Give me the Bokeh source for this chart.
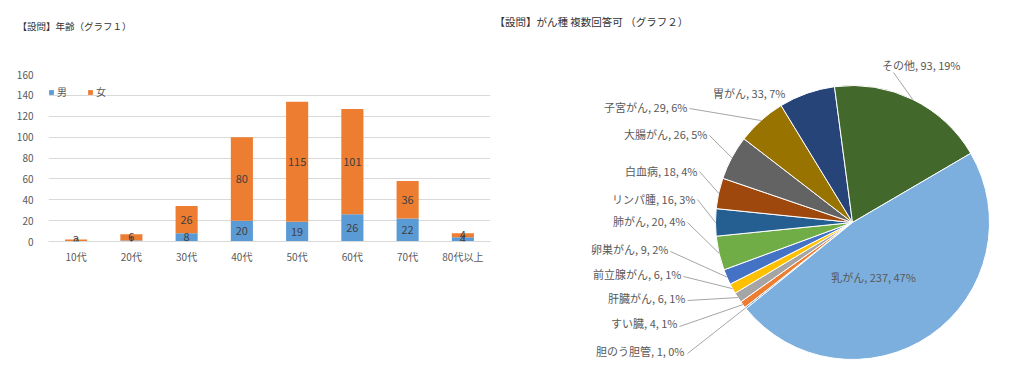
import math
from bokeh.plotting import figure
from bokeh.models import Range1d, FactorRange, ColumnDataSource, LabelSet, SingleIntervalTicker
from bokeh.layouts import row, column
from bokeh.embed import file_html
from bokeh.resources import INLINE
from bokeh.core.properties import value

FONT = "Noto Sans CJK JP"

# ---------------- data: chart 1 (age) ----------------
age_groups = ["10代", "20代", "30代", "40代", "50代", "60代", "70代", "80代以上"]
male_counts = [0, 1, 8, 20, 19, 26, 22, 4]
female_counts = [2, 6, 26, 80, 115, 101, 36, 4]
series_names = ["男", "女"]
y_max = 160
y_step = 20
title1 = "【設問】年齢（グラフ１）"

# ---------------- data: chart 2 (cancer type) ----------------
cancer_types = ["胆のう胆管", "すい臓", "肝臓がん", "前立腺がん", "卵巣がん", "肺がん", "リンパ腫",
                "白血病", "大腸がん", "子宮がん", "胃がん", "その他", "乳がん"]
cancer_counts = [1, 4, 6, 6, 9, 20, 16, 18, 26, 29, 33, 93, 237]
cancer_pcts = [0, 1, 1, 1, 2, 4, 3, 4, 5, 6, 7, 19, 47]
title2 = "【設問】がん種 複数回答可 （グラフ２）"

# ---------------- styles / layout ----------------
bar_colors = ["#5B9BD5", "#ED7D31"]
slice_colors = ["#5B9BD5", "#ED7D31", "#A5A5A5", "#FFC000", "#4472C4", "#70AD47", "#255E91",
                "#9E480E", "#636363", "#997300", "#264478", "#43682B", "#7CAFDD"]
W1, W2, H = 495, 529, 378
TH = 40  # height of the strip holding chart 1's title
first_slice_deg = 231
pie_cx, pie_cy, pie_r = 852 - W1, H - 222, 137
# label anchors in page pixels (x, y from top)
label_anchor_x = [684, 677, 685, 681, 668, 685, 695, 697, 707, 687, 785, 960, 873]
label_anchor_y = [350, 322, 297, 273, 248, 220, 198, 170, 133, 106, 92, 64, 276]
leader_start = [(687, 353), (679, 326), (687, 300), (683, 276), (670, 251), (687, 222), (697, 199),
                (699, 171), (709, 135), (689, 108), None, (893, 72), None]

# ================= chart 1 title strip =================
pt = figure(x_range=Range1d(0, W1), y_range=Range1d(0, TH), width=W1, height=TH,
            output_backend="svg", toolbar_location=None, min_border=0,
            x_axis_location=None, y_axis_location=None)
pt.frame_align = False
pt.outline_line_color = None
pt.xgrid.grid_line_color = None
pt.ygrid.grid_line_color = None
pt.title.visible = False
pt.text(x=[17], y=[TH - 25], text=[title1], text_align="left", text_baseline="middle",
        text_font=value(FONT), text_font_size="9.5px", text_color="#333333")

# ================= chart 1 =================
p1 = figure(x_range=FactorRange(*age_groups), y_range=Range1d(0, y_max),
            width=W1, height=H - TH, output_backend="svg", toolbar_location=None,
            min_border_left=48, min_border_right=5, min_border_top=74 - TH, min_border_bottom=137)
p1.frame_align = False
p1.x_range.range_padding = 0
p1.outline_line_color = None
p1.background_fill_color = "white"
p1.border_fill_color = "white"
p1.title.visible = False

src1 = ColumnDataSource(dict(age=age_groups, male=male_counts, female=female_counts))
p1.vbar_stack(["male", "female"], x="age", width=0.4, color=bar_colors, source=src1,
              legend_label=series_names, line_color=None)

lab_x, lab_y, lab_t = [], [], []
for a, m, f in zip(age_groups, male_counts, female_counts):
    lab_x += [a, a]
    lab_y += [m / 2, m + f / 2]
    lab_t += [str(m), str(f)]
lsrc = ColumnDataSource(dict(x=lab_x, y=lab_y, t=lab_t))
p1.add_layout(LabelSet(x="x", y="y", text="t", source=lsrc, text_align="center",
                       text_baseline="middle", text_font=value(FONT), text_font_size="11px",
                       text_color="#404040"))

p1.yaxis.ticker = SingleIntervalTicker(interval=y_step)
p1.yaxis.axis_line_color = None
p1.yaxis.major_tick_line_color = None
p1.yaxis.minor_tick_line_color = None
p1.yaxis.major_tick_out = 0
p1.yaxis.major_label_text_font = FONT
p1.yaxis.major_label_text_font_size = "10px"
p1.yaxis.major_label_text_color = "#595959"
p1.yaxis.major_label_standoff = 11
p1.xaxis.axis_line_color = "#D9D9D9"
p1.xaxis.major_tick_line_color = None
p1.xaxis.minor_tick_line_color = None
p1.xaxis.major_tick_out = 0
p1.xaxis.major_label_text_font = FONT
p1.xaxis.major_label_text_font_size = "10px"
p1.xaxis.major_label_text_color = "#595959"
p1.xaxis.major_label_standoff = 7
p1.xgrid.grid_line_color = None
p1.ygrid.grid_line_color = "#D9D9D9"

lg = p1.legend[0]
lg.location = (0, 142)
lg.orientation = "horizontal"
lg.border_line_color = None
lg.background_fill_alpha = 0
lg.padding = 0
lg.margin = 0
lg.spacing = 10
lg.glyph_width = 6
lg.glyph_height = 6
lg.label_height = 12
lg.label_standoff = 3
lg.label_text_font = FONT
lg.label_text_font_size = "10px"
lg.label_text_color = "#595959"

# ================= chart 2 =================
p2 = figure(x_range=Range1d(0, W2), y_range=Range1d(0, H), width=W2, height=H,
            output_backend="svg", toolbar_location=None, min_border=0,
            x_axis_location=None, y_axis_location=None)
p2.frame_align = False
p2.outline_line_color = None
p2.xgrid.grid_line_color = None
p2.ygrid.grid_line_color = None
p2.title.visible = False

total = sum(cancer_counts)
sa, ea, mids = [], [], []
cum = 0
for c in cancer_counts:
    t0 = first_slice_deg + 360 * cum / total
    cum += c
    t1 = first_slice_deg + 360 * cum / total
    sa.append(math.radians(90 - t1))
    ea.append(math.radians(90 - t0))
    mids.append(math.radians(90 - (t0 + t1) / 2))

wsrc = ColumnDataSource(dict(sa=sa, ea=ea, color=slice_colors))
p2.wedge(x=pie_cx, y=pie_cy, radius=pie_r, start_angle="sa", end_angle="ea",
         fill_color="color", line_color="white", line_width=1, source=wsrc)

# leader lines
x0s, y0s, x1s, y1s = [], [], [], []
for st, m in zip(leader_start, mids):
    if st is None:
        continue
    x0s.append(st[0] - W1)
    y0s.append(H - st[1])
    x1s.append(pie_cx + pie_r * math.cos(m))
    y1s.append(pie_cy + pie_r * math.sin(m))
p2.segment(x0=x0s, y0=y0s, x1=x1s, y1=y1s, line_color="#A6A6A6", line_width=1)

texts = [f"{n}, {c}, {pc}%" for n, c, pc in zip(cancer_types, cancer_counts, cancer_pcts)]
rs = ColumnDataSource(dict(x=[lx - W1 for lx in label_anchor_x[:-1]],
                           y=[H - ly for ly in label_anchor_y[:-1]], t=texts[:-1]))
p2.text(x="x", y="y", text="t", source=rs, text_align="right", text_baseline="middle",
        text_font=value(FONT), text_font_size="11px", text_color="#595959")
cs = ColumnDataSource(dict(x=[label_anchor_x[-1] - W1], y=[H - label_anchor_y[-1]], t=[texts[-1]]))
p2.text(x="x", y="y", text="t", source=cs, text_align="center", text_baseline="middle",
        text_font=value(FONT), text_font_size="11px", text_color="#595959")

p2.text(x=[-1], y=[H - 21], text=[title2], text_align="left", text_baseline="middle",
        text_font=value(FONT), text_font_size="10.5px", text_color="#333333")

layout = row(column(pt, p1), p2)
open("out.html", "w").write(file_html(layout, INLINE))
